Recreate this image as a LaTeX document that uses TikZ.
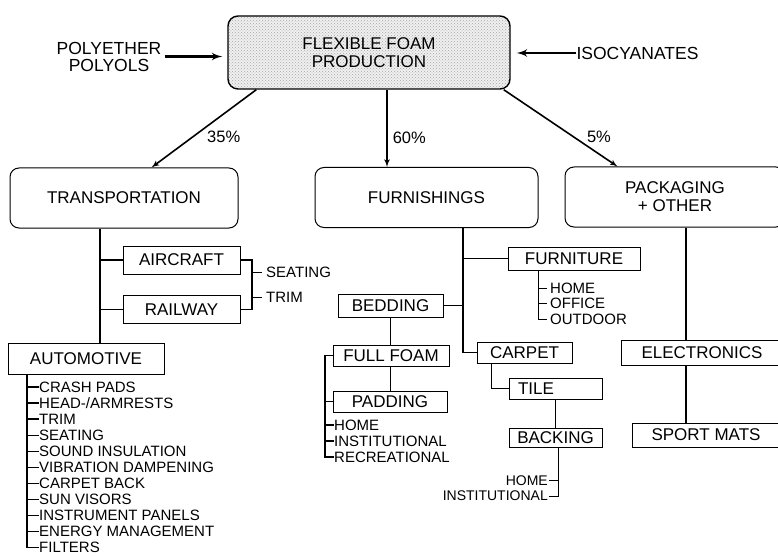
\documentclass[tikz,border=0pt]{standalone}
\usepackage{fontspec}
\setmainfont{Liberation Sans}
\usetikzlibrary{arrows,patterns}

\begin{document}
\begin{tikzpicture}[x=1pt, y=-1pt,
    box/.style={draw, line width=1pt, inner sep=0pt, font=\fontsize{17}{18}\selectfont},
    sector/.style={box, rounded corners=9pt, align=center},
    note/.style={inner sep=0pt, font=\fontsize{15}{16}\selectfont},
    pct/.style={inner sep=0pt, font=\fontsize{16.5}{17}\selectfont},
    link/.style={line width=1.3pt},
    twig/.style={line width=0.9pt},
    feed/.style={line width=2.6pt, -latex'}]
  \useasboundingbox (0,0) rectangle (778,556);
  \clip (0,0) rectangle (778,556);

  % production and raw materials
  \node[box, rounded corners=10pt, line width=1.4pt, minimum width=282pt, minimum height=73pt,
        align=center, preaction={fill=gray!12}, pattern=crosshatch dots, pattern color=gray!70]
        (prod) at (369,52.5) {FLEXIBLE FOAM\\PRODUCTION};
  \node[inner sep=0pt, align=center, font=\fontsize{17.5}{17}\selectfont] (polyols) at (109,56.5) {POLYETHER\\POLYOLS};
  \node[inner sep=0pt, font=\fontsize{17.5}{17}\selectfont] (iso) at (637.5,53) {ISOCYANATES};
  \draw[feed, shorten <=3pt, shorten >=5pt] (polyols.east) -- (polyols.east -| prod.west);
  \draw[feed, shorten >=6pt] (iso.west) -- (iso.west -| prod.east);

  % markets
  \node[sector, minimum width=228pt, minimum height=60pt] (trans) at (124,198) {TRANSPORTATION};
  \node[sector, minimum width=223pt, minimum height=60pt] (furn) at (426.5,197.5) {FURNISHINGS};
  \node[sector, minimum width=220pt, minimum height=60pt] (pack) at (675,197) {PACKAGING\\+ OTHER};
  \draw[link, line width=1.6pt, -latex'] ([xshift=29pt]prod.south west) -- ([xshift=142pt]trans.north west)
    node[pct, pos=0.61, right=14pt] (p35) {35\%};
  \draw[link, line width=1.6pt, -latex'] ([xshift=18pt]prod.south) -- ([xshift=18pt]prod.south |- furn.north)
    node[pct, pos=0.62, right=5pt] (p60) {60\%};
  \draw[link, line width=1.6pt, -latex'] ([xshift=-7pt]prod.south east) -- ([xshift=53pt]pack.north west)
    node[pct, pos=0.62, right=12pt] (p5) {5\%};

  % transportation
  \coordinate (tx) at (100,0);
  \node[box, minimum width=117pt, minimum height=28pt] (aircraft) at (181.5,260) {AIRCRAFT};
  \node[box, minimum width=117pt, minimum height=28pt] (railway) at (181.5,309.5) {RAILWAY};
  \node[box, minimum width=156pt, minimum height=31pt] (automotive) at (86,358.5) {AUTOMOTIVE};
  \draw[link] (trans.south -| tx) -- (automotive.north -| tx);
  \draw[link] (aircraft.west -| tx) -- (aircraft.west);
  \draw[link] (railway.west -| tx) -- (railway.west);
  \coordinate (bx) at (252,0);
  \draw[link] (aircraft.east) -| (bx |- railway.east) -- (railway.east);
  \node[note, anchor=west] (seating) at (266,272) {SEATING};
  \node[note, anchor=west] (trim) at (266,297) {TRIM};
  \draw[twig] (bx |- seating.west) -- ([xshift=-4pt]seating.west);
  \draw[twig] (bx |- trim.west) -- ([xshift=-4pt]trim.west);

  \coordinate (ax) at (27,0);
  \foreach \txt [count=\i] in {CRASH PADS, HEAD-/ARMRESTS, TRIM, SEATING, SOUND INSULATION,
      VIBRATION DAMPENING, CARPET BACK, SUN VISORS, INSTRUMENT PANELS, ENERGY MANAGEMENT, FILTERS}
    \node[note, anchor=west] (am\i) at (39, {387+16.05*(\i-1)}) {\txt};
  \foreach \i in {1,...,10}
    \draw[link] (ax |- am\i.west) -- (am\i.west);
  \draw[link] (automotive.south -| ax) |- (am11.west);

  % furnishings
  \coordinate (fx) at (463,0);
  \node[box, minimum width=132pt, minimum height=23pt] (furniture) at (574,258.5) {FURNITURE};
  \node[box, minimum width=105pt, minimum height=23pt] (bedding) at (390.5,305.5) {BEDDING};
  \node[box, minimum width=95pt, minimum height=21pt] (carpet) at (524.5,352.5) {CARPET};
  \draw[link] (furn.south -| fx) |- (carpet.west);
  \draw[link] (fx |- furniture.west) -- (furniture.west);
  \draw[link] (fx |- bedding.east) -- (bedding.east);

  \coordinate (ux) at (538,0);
  \foreach \txt [count=\i] in {HOME, OFFICE, OUTDOOR}
    \node[note, anchor=west] (fu\i) at (550, {288+15.5*(\i-1)}) {\txt};
  \foreach \i in {1,2}
    \draw[twig] (ux |- fu\i.west) -- ([xshift=-3pt]fu\i.west);
  \draw[twig] (furniture.south -| ux) |- ([xshift=-3pt]fu3.west);

  \node[box, minimum width=116pt, minimum height=21pt] (fullfoam) at (391,355.5) {FULL FOAM};
  \node[box, minimum width=114pt, minimum height=21pt] (padding) at (390,401.5) {PADDING};
  \draw[link] (bedding.south) -- (bedding.south |- fullfoam.north);
  \draw[link] (fullfoam.south -| bedding.south) -- (padding.north -| bedding.south);
  \coordinate (dx) at (325,0);
  \foreach \txt [count=\i] in {HOME, INSTITUTIONAL, RECREATIONAL}
    \node[note, anchor=west] (be\i) at (334, {425+16*(\i-1)}) {\txt};
  \draw[link] (fullfoam.west) -| (dx |- be3.west) -- (be3.west);
  \draw[link] (dx |- padding.west) -- (padding.west);
  \foreach \i in {1,2}
    \draw[link] (dx |- be\i.west) -- (be\i.west);

  \node[box, minimum width=93pt, minimum height=21pt, text width=75pt, align=left] (tile) at (555.5,388.5) {TILE};
  \node[box, minimum width=93pt, minimum height=19pt] (backing) at (555.5,437.5) {BACKING};
  \draw[link] ([xshift=15pt]carpet.south west) |- (tile.west);
  \draw[link] (tile.south) -- (backing.north);
  \coordinate (kx) at (558,0);
  \node[note, anchor=east, font=\fontsize{14}{15}\selectfont] (bk1) at (548,480.5) {HOME};
  \node[note, anchor=east, font=\fontsize{14}{15}\selectfont] (bk2) at (548,496) {INSTITUTIONAL};
  \draw[twig] (backing.south -| kx) |- ([xshift=1pt]bk2.east);
  \draw[twig] (kx |- bk1.east) -- ([xshift=1pt]bk1.east);

  % packaging + other
  \coordinate (px) at (686,0);
  \node[box, minimum width=162pt, minimum height=25pt] (electronics) at (702,352.5) {ELECTRONICS};
  \node[box, minimum width=148pt, minimum height=24pt] (sportmats) at (706,435) {SPORT MATS};
  \draw[link] (pack.south -| px) -- (electronics.north -| px);
  \draw[link] (electronics.south -| px) -- (sportmats.north -| px);
\end{tikzpicture}
\end{document}
